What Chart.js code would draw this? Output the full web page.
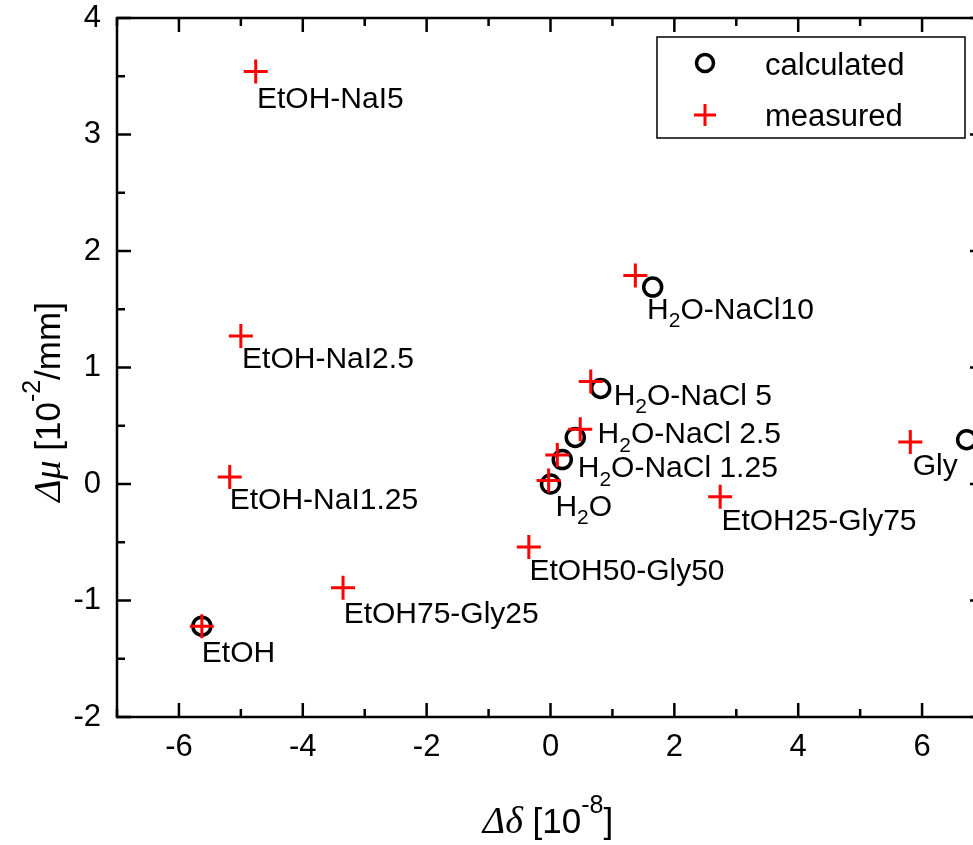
<!DOCTYPE html>
<html>
<head>
<meta charset="utf-8">
<script src="https://cdn.jsdelivr.net/npm/chart.js@4.4.1/dist/chart.umd.min.js"></script>
<style>
  html, body { margin: 0; padding: 0; background: #fff; overflow: hidden; }
  #wrap { width: 1000px; height: 845px; position: relative; }
</style>
</head>
<body>
<div id="wrap"><canvas id="c" width="1000" height="845"></canvas></div>
<script>
// calculated values (x in 10^-8, y in 10^-2/mm)
const calcX = [-5.63, 0.0, 0.19, 0.40, 0.81, 1.65, 6.72];
const calcY = [-1.22, 0.0, 0.21, 0.40, 0.82, 1.69, 0.38];

// measured values
const measX = [-4.76, -5.0, -5.18, -5.63, -3.35, -0.35, -0.03, 0.11, 0.48, 0.65, 1.37, 2.74, 5.81];
const measY = [3.54, 1.27, 0.06, -1.22, -0.89, -0.54, 0.03, 0.25, 0.47, 0.88, 1.79, -0.11, 0.36];

// point labels (text, left/middle anchor in data units); "_2" = subscript 2
const labelText = ['EtOH-NaI5', 'EtOH-NaI2.5', 'EtOH-NaI1.25', 'EtOH', 'EtOH75-Gly25', 'EtOH50-Gly50',
  'EtOH25-Gly75', 'Gly', 'H_2O', 'H_2O-NaCl 1.25', 'H_2O-NaCl 2.5', 'H_2O-NaCl 5', 'H_2O-NaCl10'];
const labelX = [-4.74, -4.98, -5.18, -5.63, -3.34, -0.34, 2.76, 5.85, 0.08, 0.44, 0.76, 1.02, 1.56];
const labelY = [3.30, 1.07, -0.14, -1.46, -1.12, -0.75, -0.32, 0.15, -0.20, 0.13, 0.42, 0.75, 1.49];

const xMin = -7, xMax = 7;
const yMin = -2, yMax = 4;

const FONT = "'Liberation Sans', Arial, sans-serif";
const GREEK = "'Liberation Serif', 'Times New Roman', serif";

function toPoints(xs, ys) {
  return xs.map((x, i) => ({ x: x, y: ys[i] }));
}

// draw a list of text pieces one after another
function drawRich(ctx, parts, x, y, align) {
  let total = 0;
  parts.forEach(p => { ctx.font = p.font; total += ctx.measureText(p.t).width; });
  let cx = align === 'center' ? x - total / 2 : x;
  ctx.textAlign = 'left';
  parts.forEach(p => {
    ctx.font = p.font;
    ctx.fillText(p.t, cx, y + (p.dy || 0));
    cx += ctx.measureText(p.t).width;
  });
}

function labelParts(s) {
  const parts = [];
  s.split('_').forEach((chunk, i) => {
    if (i === 0) { parts.push({ t: chunk, font: '30px ' + FONT }); return; }
    parts.push({ t: chunk[0], font: '21px ' + FONT, dy: 11 });
    parts.push({ t: chunk.slice(1), font: '30px ' + FONT });
  });
  return parts;
}

const framePlugin = {
  id: 'frame',
  afterDatasetsDraw(chart) {
    const ctx = chart.ctx;
    const a = chart.chartArea;
    const xs = chart.scales.x, ys = chart.scales.y;
    ctx.save();
    ctx.strokeStyle = '#000';
    ctx.lineWidth = 2.5;
    ctx.strokeRect(a.left, a.top, a.right - a.left, a.bottom - a.top);

    // inward ticks on all four sides
    ctx.beginPath();
    xs.ticks.forEach(t => {
      const px = xs.getPixelForValue(t.value);
      const len = t.value % 2 === 0 ? 14 : 8;
      ctx.moveTo(px, a.bottom); ctx.lineTo(px, a.bottom - len);
      ctx.moveTo(px, a.top); ctx.lineTo(px, a.top + len);
    });
    ys.ticks.forEach(t => {
      const py = ys.getPixelForValue(t.value);
      const len = Number.isInteger(t.value) ? 14 : 8;
      ctx.moveTo(a.left, py); ctx.lineTo(a.left + len, py);
      ctx.moveTo(a.right, py); ctx.lineTo(a.right - len, py);
    });
    ctx.stroke();

    // point labels
    ctx.fillStyle = '#000';
    ctx.textBaseline = 'middle';
    labelText.forEach((s, i) => {
      drawRich(ctx, labelParts(s), xs.getPixelForValue(labelX[i]), ys.getPixelForValue(labelY[i]), 'left');
    });

    // legend box
    const lx = a.right - 327, ly = a.top + 19;
    ctx.lineWidth = 1.5;
    ctx.strokeRect(lx, ly, 308, 101);
    ctx.lineWidth = 3.5;
    ctx.beginPath();
    ctx.arc(lx + 48, ly + 26, 8.5, 0, Math.PI * 2);
    ctx.stroke();
    ctx.lineWidth = 3;
    ctx.strokeStyle = '#ff0000';
    ctx.beginPath();
    ctx.moveTo(lx + 37, ly + 78); ctx.lineTo(lx + 59, ly + 78);
    ctx.moveTo(lx + 48, ly + 67); ctx.lineTo(lx + 48, ly + 89);
    ctx.stroke();
    ctx.font = '31px ' + FONT;
    ctx.fillText('calculated', lx + 108, ly + 29);
    ctx.fillText('measured', lx + 108, ly + 80);

    // axis titles
    ctx.textBaseline = 'alphabetic';
    drawRich(ctx, [
      { t: '\u0394\u03b4', font: 'italic 38px ' + GREEK },
      { t: ' [10', font: '35px ' + FONT },
      { t: '-8', font: '25px ' + FONT, dy: -20 },
      { t: ']', font: '35px ' + FONT }
    ], 548, 833, 'center');

    ctx.translate(60, 402);
    ctx.rotate(-Math.PI / 2);
    drawRich(ctx, [
      { t: '\u0394\u03bc', font: 'italic 38px ' + GREEK },
      { t: ' [10', font: '35px ' + FONT },
      { t: '-2', font: '25px ' + FONT, dy: -20 },
      { t: '/mm]', font: '35px ' + FONT }
    ], 0, 0, 'center');
    ctx.restore();
  }
};

const ctx = document.getElementById('c').getContext('2d');
new Chart(ctx, {
  type: 'scatter',
  data: {
    datasets: [
      {
        label: 'calculated',
        data: toPoints(calcX, calcY),
        pointStyle: 'circle',
        pointRadius: 9,
        pointBorderWidth: 3.5,
        pointBorderColor: '#000',
        pointBackgroundColor: 'rgba(0,0,0,0)',
        order: 2,
        clip: false
      },
      {
        label: 'measured',
        data: toPoints(measX, measY),
        pointStyle: 'cross',
        pointRadius: 12,
        pointBorderWidth: 3,
        pointBorderColor: '#ff0000',
        pointBackgroundColor: '#ff0000',
        order: 1,
        clip: false
      }
    ]
  },
  options: {
    responsive: false,
    animation: false,
    devicePixelRatio: 1,
    layout: { padding: { top: 18, right: 16, left: 0, bottom: 0 } },
    plugins: { legend: { display: false }, tooltip: { enabled: false } },
    scales: {
      x: {
        type: 'linear',
        min: xMin, max: xMax,
        grid: { display: false, drawTicks: false },
        border: { display: false },
        ticks: {
          stepSize: 1,
          padding: 12,
          color: '#000',
          font: { family: FONT, size: 31 },
          autoSkip: false,
          maxRotation: 0,
          callback: v => (v % 2 === 0 && v !== xMin && v !== xMax) ? String(v) : ''
        },
        afterFit: s => { s.height = 128; s.paddingLeft = 0; s.paddingRight = 0; }
      },
      y: {
        type: 'linear',
        min: yMin, max: yMax,
        grid: { display: false, drawTicks: false },
        border: { display: false },
        ticks: {
          stepSize: 0.5,
          padding: 16,
          color: '#000',
          font: { family: FONT, size: 31 },
          autoSkip: false,
          callback: v => Number.isInteger(v) ? String(v) : ''
        },
        afterFit: s => { s.width = 117; s.paddingTop = 0; s.paddingBottom = 0; }
      }
    }
  },
  plugins: [framePlugin]
});
</script>
</body>
</html>
